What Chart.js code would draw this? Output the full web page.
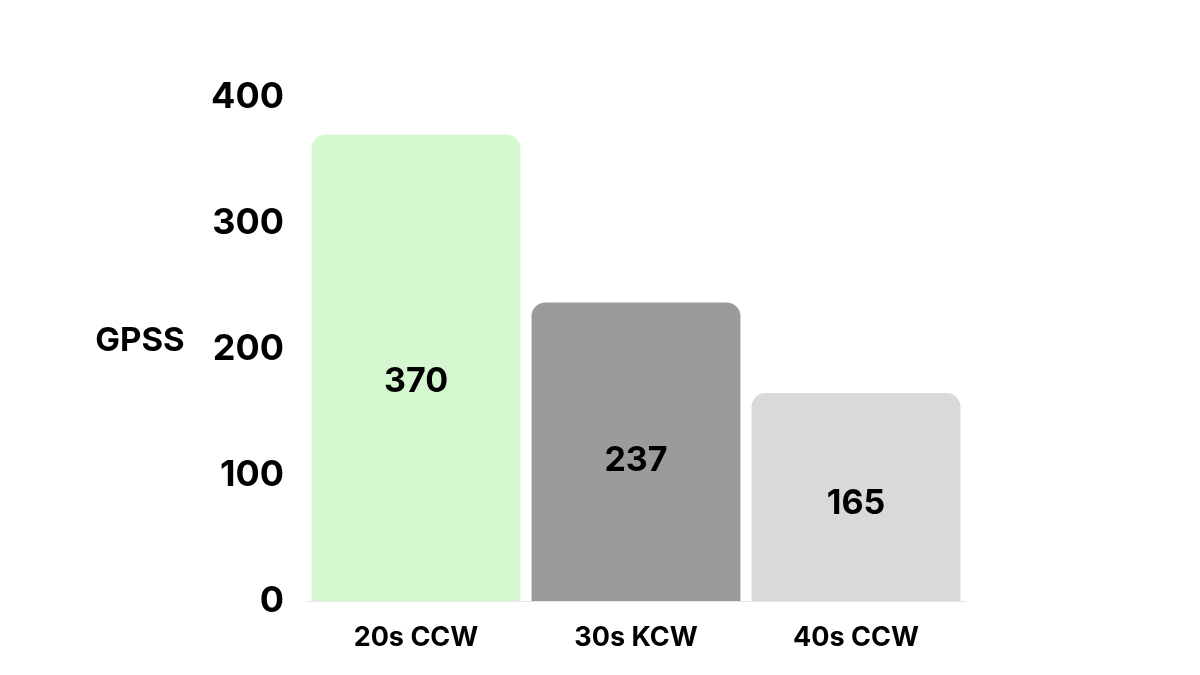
<!DOCTYPE html>
<html>
<head>
<meta charset="utf-8">
<script src="https://cdn.jsdelivr.net/npm/chart.js@4.4.1/dist/chart.umd.min.js"></script>
<style>
  html, body { margin: 0; padding: 0; background: #ffffff; }
  #wrap { width: 1200px; height: 675px; position: relative; }
</style>
</head>
<body>
<div id="wrap"><canvas id="gpssChart" width="1200" height="675"></canvas></div>
<script>
const categories = ['20s CCW', '30s KCW', '40s CCW'];
const gpssValues = [370, 237, 165];
const barColors = ['#d5f7cf', '#9b9b9b', '#d9d9d9'];
const yTicks = [0, 100, 200, 300, 400];
const axisTitle = 'GPSS';

const FONT = 'Inter, "Open Sans", sans-serif';

// value labels inside each bar, plus the horizontal axis title on the left
const labelPlugin = {
    id: 'barLabels',
    afterDatasetsDraw(chart) {
        const ctx = chart.ctx;
        const yScale = chart.scales.y;
        const meta = chart.getDatasetMeta(0);
        ctx.save();
        ctx.fillStyle = '#000000';
        ctx.font = 'bold 34px ' + FONT;
        ctx.textAlign = 'center';
        ctx.textBaseline = 'middle';
        meta.data.forEach((bar, i) => {
            const v = gpssValues[i];
            ctx.fillText(String(v), bar.x, yScale.getPixelForValue(v * 0.47));
        });
        ctx.font = 'bold 33px ' + FONT;
        ctx.fillText(axisTitle, 140, yScale.getPixelForValue(206));
        ctx.restore();
    }
};

const ctx = document.getElementById('gpssChart').getContext('2d');
new Chart(ctx, {
    type: 'bar',
    data: {
        labels: categories,
        datasets: [{
            data: gpssValues,
            backgroundColor: barColors,
            borderWidth: 0,
            borderRadius: { topLeft: 14, topRight: 14, bottomLeft: 0, bottomRight: 0 },
            borderSkipped: 'bottom',
            barPercentage: 0.95,
            categoryPercentage: 1.0
        }]
    },
    options: {
        responsive: false,
        animation: false,
        devicePixelRatio: 1,
        layout: { padding: { top: 97, right: 234, bottom: 0, left: 0 } },
        plugins: { legend: { display: false }, tooltip: { enabled: false } },
        scales: {
            x: {
                grid: { display: false, drawTicks: false },
                border: { display: true, color: '#e8e8e8', width: 1 },
                ticks: { color: '#000000', font: { family: FONT, size: 27, weight: 'bold' }, padding: 21, maxRotation: 0 },
                afterFit(scale) { scale.height = 74; }
            },
            y: {
                min: 0, max: 400,
                afterBuildTicks(scale) { scale.ticks = yTicks.map(v => ({ value: v })); },
                grid: { display: false, drawTicks: false },
                border: { display: false },
                ticks: { color: '#000000', font: { family: FONT, size: 36, weight: 'bold' }, padding: 22 },
                afterFit(scale) { scale.width = 306; }
            }
        }
    },
    plugins: [labelPlugin]
});
</script>
</body>
</html>
